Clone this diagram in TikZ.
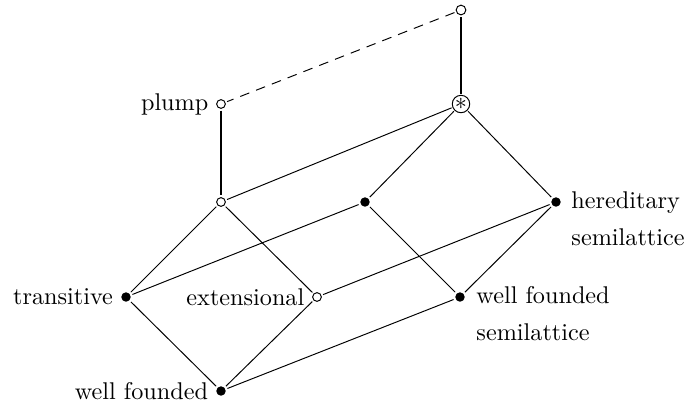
\documentclass[tikz,border=0pt]{standalone}
\begin{document}
\begin{tikzpicture}[x=0.413pt,y=-0.413pt,
  full/.style={circle,fill=black,inner sep=0pt,minimum size=3.9pt,outer sep=0.9pt},
  hollow/.style={circle,draw=black,line width=0.4pt,fill=white,inner sep=0pt,minimum size=3.6pt,outer sep=0.9pt},
  big/.style={circle,draw=black,line width=0.4pt,inner sep=0pt,minimum size=7.2pt,outer sep=0.6pt},
  thin/.style={line width=0.4pt},
  thick2/.style={line width=0.85pt},
  lab/.style={font=\normalsize}]
\useasboundingbox (0,0) rectangle (687,404);
\node[hollow,minimum size=4pt] (top) at (461,10) {};
\node[hollow,label={[lab,label distance=-1pt]left:plump}] (plump) at (221,104) {};
\node[big] (star) at (461,104) {$\ast$};
\node[hollow] (a) at (221,202) {};
\node[full] (b) at (365,202) {};
\node[full] (h) at (556,202) {};
\node[anchor=north west,align=left,inner sep=0pt] at (571,191) {hereditary\\[3.2pt]semilattice};
\node[full,label={[lab,label distance=-1pt]left:transitive}] (t) at (126,297) {};
\node[hollow,label={[lab,label distance=-1pt]left:extensional}] (e) at (317,297) {};
\node[full] (w) at (460,297) {};
\node[anchor=north west,align=left,inner sep=0pt] at (476,286) {well founded\\[3.2pt]semilattice};
\node[full,label={[lab,label distance=-1pt]left:well founded}] (wf) at (221,391) {};
\draw[thick2] (top) -- (star);
\draw[thin,dashed,dash pattern=on 4pt off 3pt] (top) -- (plump);
\draw[thick2] (plump) -- (a);
\draw[thin] (star) -- (a);
\draw[thin] (star) -- (b);
\draw[thin] (star) -- (h);
\draw[thin] (a) -- (t);
\draw[thin] (a) -- (e);
\draw[thin] (b) -- (t);
\draw[thin] (b) -- (w);
\draw[thin] (h) -- (e);
\draw[thin] (h) -- (w);
\draw[thin] (t) -- (wf);
\draw[thin] (e) -- (wf);
\draw[thin] (w) -- (wf);
\end{tikzpicture}
\end{document}
